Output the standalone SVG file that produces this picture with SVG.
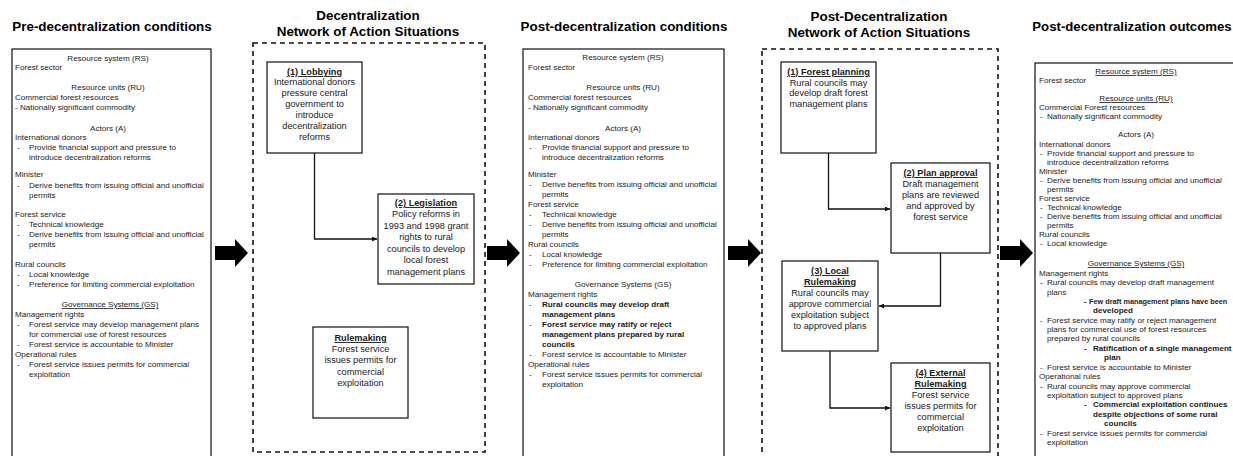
<svg xmlns="http://www.w3.org/2000/svg" width="1233" height="456" viewBox="0 0 1233 456">
<style>
text{font-family:"Liberation Sans",Arial,sans-serif;fill:#1a1a1a}
.t{font-size:8.1px}
.c{text-anchor:middle}
.b{font-weight:bold}
.u{text-decoration:underline}
.h{font-size:13.4px;font-weight:bold;text-anchor:middle;fill:#000}
.n{font-size:9.2px;text-anchor:middle}
.box{fill:#fff;stroke:#222;stroke-width:1.3}
.dash{fill:none;stroke:#111;stroke-width:1.6;stroke-dasharray:5 4}
.conn{fill:none;stroke:#111;stroke-width:1.3;marker-end:url(#ah)}
.big{fill:#000}
</style>
<defs>
<marker id="ah" viewBox="0 0 6 6" refX="6" refY="3" markerWidth="5" markerHeight="5" markerUnits="userSpaceOnUse" orient="auto"><path d="M0,0 L6,3 L0,6 Z" fill="#111"/></marker>
<path id="bigArrow" d="M0,-7 H20 V-14 L33,0 L20,14 V7 H0 Z"/>
</defs>
<rect width="1233" height="456" fill="#fff"/>

<!-- Panel 1 -->
<g id="pre-conditions">
<text class="h" x="112" y="31">Pre-decentralization conditions</text>
<rect class="box" x="12" y="49" width="199" height="420"/>
<g class="t">
<text class="c" x="108" y="61">Resource system (RS)</text>
<text x="15" y="70">Forest sector</text>
<text class="c" x="108" y="90">Resource units (RU)</text>
<text x="15" y="100">Commercial forest resources</text>
<text x="15" y="110">- Nationally significant commodity</text>
<text class="c" x="108" y="131">Actors (A)</text>
<text x="15" y="140">International donors</text>
<text x="17" y="150">-</text><text x="29" y="150">Provide financial support and pressure to</text>
<text x="29" y="160">introduce decentralization reforms</text>
<text x="15" y="177">Minister</text>
<text x="17" y="188">-</text><text x="29" y="188">Derive benefits from issuing official and unofficial</text>
<text x="29" y="198">permits</text>
<text x="15" y="217">Forest service</text>
<text x="17" y="227">-</text><text x="29" y="227">Technical knowledge</text>
<text x="17" y="237">-</text><text x="29" y="237">Derive benefits from issuing official and unofficial</text>
<text x="29" y="247">permits</text>
<text x="15" y="267">Rural councils</text>
<text x="17" y="277">-</text><text x="29" y="277">Local knowledge</text>
<text x="17" y="287">-</text><text x="29" y="287">Preference for limiting commercial exploitation</text>
<text class="c u" x="110" y="307">Governance Systems (GS)</text>
<text x="15" y="317">Management rights</text>
<text x="17" y="327">-</text><text x="29" y="327">Forest service may develop management plans</text>
<text x="29" y="337">for commercial use of forest resources</text>
<text x="17" y="347">-</text><text x="29" y="347">Forest service is accountable to Minister</text>
<text x="15" y="357">Operational rules</text>
<text x="17" y="367">-</text><text x="29" y="367">Forest service issues permits for commercial</text>
<text x="29" y="377">exploitation</text>
</g>
</g>

<!-- Panel 2 -->
<g id="decentralization-nas">
<text class="h" x="368" y="20">Decentralization</text>
<text class="h" x="368" y="36">Network of Action Situations</text>
<rect class="dash" x="253" y="43" width="232" height="409"/>
</g>
<g id="lobbying">
<rect class="box" x="267" y="62" width="95" height="91"/>
<text class="n b u" x="314.5" y="75">(1) Lobbying</text>
<text class="n" x="314.5" y="85">International donors</text>
<text class="n" x="314.5" y="96">pressure central</text>
<text class="n" x="314.5" y="107">government to</text>
<text class="n" x="314.5" y="118">introduce</text>
<text class="n" x="314.5" y="129">decentralization</text>
<text class="n" x="314.5" y="140">reforms</text>
</g>
<g id="legislation">
<rect class="box" x="378" y="194" width="96" height="90"/>
<text class="n b u" x="426" y="206">(2) Legislation</text>
<text class="n" x="426" y="217">Policy reforms in</text>
<text class="n" x="426" y="228.5">1993 and 1998 grant</text>
<text class="n" x="426" y="240">rights to rural</text>
<text class="n" x="426" y="251.5">councils to develop</text>
<text class="n" x="426" y="263">local forest</text>
<text class="n" x="426" y="274.5">management plans</text>
</g>
<g id="rulemaking">
<rect class="box" x="313" y="327" width="95" height="91"/>
<text class="n b u" x="360.5" y="341">Rulemaking</text>
<text class="n" x="360.5" y="352">Forest service</text>
<text class="n" x="360.5" y="363">issues permits for</text>
<text class="n" x="360.5" y="374.5">commercial</text>
<text class="n" x="360.5" y="386">exploitation</text>
</g>

<!-- Panel 3 -->
<g id="post-conditions">
<text class="h" x="624" y="31">Post-decentralization conditions</text>
<rect class="box" x="523" y="49" width="201" height="420"/>
<g class="t">
<text class="c" x="623" y="60">Resource system (RS)</text>
<text x="528" y="70">Forest sector</text>
<text class="c" x="623" y="90">Resource units (RU)</text>
<text x="528" y="100">Commercial forest resources</text>
<text x="528" y="110">- Nationally significant commodity</text>
<text class="c" x="623" y="131">Actors (A)</text>
<text x="528" y="140">International donors</text>
<text x="529" y="150">-</text><text x="542" y="150">Provide financial support and pressure to</text>
<text x="542" y="160">introduce decentralization reforms</text>
<text x="528" y="177">Minister</text>
<text x="529" y="187">-</text><text x="542" y="187">Derive benefits from issuing official and unofficial</text>
<text x="542" y="197">permits</text>
<text x="528" y="207">Forest service</text>
<text x="529" y="217">-</text><text x="542" y="217">Technical knowledge</text>
<text x="529" y="227">-</text><text x="542" y="227">Derive benefits from issuing official and unofficial</text>
<text x="542" y="237">permits</text>
<text x="528" y="247">Rural councils</text>
<text x="529" y="257">-</text><text x="542" y="257">Local knowledge</text>
<text x="529" y="267">-</text><text x="542" y="267">Preference for limiting commercial exploitation</text>
<text class="c" x="623" y="287">Governance Systems (GS)</text>
<text x="528" y="297">Management rights</text>
<text x="529" y="307">-</text><text class="b" x="542" y="307">Rural councils may develop draft</text>
<text class="b" x="542" y="317">management plans</text>
<text x="529" y="327">-</text><text class="b" x="542" y="327">Forest service may ratify or reject</text>
<text class="b" x="542" y="337">management plans prepared by rural</text>
<text class="b" x="542" y="347">councils</text>
<text x="529" y="357">-</text><text x="542" y="357">Forest service is accountable to Minister</text>
<text x="528" y="367">Operational rules</text>
<text x="529" y="377">-</text><text x="542" y="377">Forest service issues permits for commercial</text>
<text x="542" y="387">exploitation</text>
</g>
</g>

<!-- Panel 4 -->
<g id="post-nas">
<text class="h" x="879" y="21">Post-Decentralization</text>
<text class="h" x="879" y="37">Network of Action Situations</text>
<rect class="dash" x="762" y="49" width="236" height="420"/>
</g>
<g id="forest-planning">
<rect class="box" x="781" y="62" width="95" height="91"/>
<text class="n b u" x="828.5" y="75">(1) Forest planning</text>
<text class="n" x="828.5" y="85.5">Rural councils may</text>
<text class="n" x="828.5" y="96">develop draft forest</text>
<text class="n" x="828.5" y="106.5">management plans</text>
</g>
<g id="plan-approval">
<rect class="box" x="891" y="163" width="99" height="90"/>
<text class="n b u" x="940.5" y="176">(2) Plan approval</text>
<text class="n" x="940.5" y="187">Draft management</text>
<text class="n" x="940.5" y="198">plans are reviewed</text>
<text class="n" x="940.5" y="209">and approved by</text>
<text class="n" x="940.5" y="220">forest service</text>
</g>
<g id="local-rulemaking">
<rect class="box" x="782" y="261" width="96" height="90"/>
<text class="n b u" x="830" y="274">(3) Local</text>
<text class="n b u" x="830" y="285">Rulemaking</text>
<text class="n" x="830" y="296">Rural councils may</text>
<text class="n" x="830" y="307">approve commercial</text>
<text class="n" x="830" y="318">exploitation subject</text>
<text class="n" x="830" y="329">to approved plans</text>
</g>
<g id="external-rulemaking">
<rect class="box" x="891" y="363" width="99" height="89"/>
<text class="n b u" x="940.5" y="376">(4) External</text>
<text class="n b u" x="940.5" y="387">Rulemaking</text>
<text class="n" x="940.5" y="398">Forest service</text>
<text class="n" x="940.5" y="409">issues permits for</text>
<text class="n" x="940.5" y="420">commercial</text>
<text class="n" x="940.5" y="431">exploitation</text>
</g>

<!-- Panel 5 -->
<g id="post-outcomes">
<text class="h" x="1132" y="31" style="font-size:13.2px">Post-decentralization outcomes</text>
<rect class="box" x="1035" y="63" width="210" height="420"/>
<g class="t">
<text class="c u" x="1136" y="74">Resource system (RS)</text>
<text x="1039" y="83">Forest sector</text>
<text class="c u" x="1136" y="101">Resource units (RU)</text>
<text x="1039" y="110">Commercial Forest resources</text>
<text x="1040" y="119">-</text><text x="1047" y="119">Nationally significant commodity</text>
<text class="c" x="1136" y="137">Actors (A)</text>
<text x="1039" y="146.5">International donors</text>
<text x="1040" y="155.5">-</text><text x="1047" y="155.5">Provide financial support and pressure to</text>
<text x="1047" y="164.5">introduce decentralization reforms</text>
<text x="1039" y="173.5">Minister</text>
<text x="1040" y="182.5">-</text><text x="1047" y="182.5">Derive benefits from issuing official and unofficial</text>
<text x="1047" y="191.5">permits</text>
<text x="1039" y="201">Forest service</text>
<text x="1040" y="210">-</text><text x="1047" y="210">Technical knowledge</text>
<text x="1040" y="219">-</text><text x="1047" y="219">Derive benefits from issuing official and unofficial</text>
<text x="1047" y="228">permits</text>
<text x="1039" y="237">Rural councils</text>
<text x="1040" y="246">-</text><text x="1047" y="246">Local knowledge</text>
<text class="c u" x="1136" y="266">Governance Systems (GS)</text>
<text x="1039" y="275.5">Management rights</text>
<text x="1040" y="285">-</text><text x="1047" y="285">Rural councils may develop draft management</text>
<text x="1047" y="294.5">plans</text>
<text class="b" x="1084" y="304">-</text><text class="b" x="1089" y="304" style="font-size:7.3px">Few draft management plans have been</text>
<text class="b" x="1093" y="313">developed</text>
<text x="1040" y="322.5">-</text><text x="1047" y="322.5">Forest service may ratify or reject management</text>
<text x="1047" y="332">plans for commercial use of forest resources</text>
<text x="1047" y="341">prepared by rural councils</text>
<text class="b" x="1084" y="350.5">-</text><text class="b" x="1093" y="350.5">Ratification of a single management</text>
<text class="b" x="1104" y="360">plan</text>
<text x="1040" y="369.5">-</text><text x="1047" y="369.5">Forest service is accountable to Minister</text>
<text x="1039" y="379">Operational rules</text>
<text x="1040" y="388.5">-</text><text x="1047" y="388.5">Rural councils may approve commercial</text>
<text x="1047" y="398">exploitation subject to approved plans</text>
<text class="b" x="1084" y="407">-</text><text class="b" x="1093" y="407">Commercial exploitation continues</text>
<text class="b" x="1093" y="416.5">despite objections of some rural</text>
<text class="b" x="1104" y="426">councils</text>
<text x="1040" y="435.5">-</text><text x="1047" y="435.5">Forest service issues permits for commercial</text>
<text x="1047" y="445">exploitation</text>
</g>
</g>

<!-- Connectors -->
<g id="connectors">
<path class="conn" d="M314.5,153 V239 H377"/>
<path class="conn" d="M828.5,153 V209 H890"/>
<path class="conn" d="M940.5,253 V306 H879"/>
<path class="conn" d="M830,351 V408 H890"/>
<use href="#bigArrow" class="big" x="215" y="253"/>
<use href="#bigArrow" class="big" x="487" y="253"/>
<use href="#bigArrow" class="big" x="728" y="253"/>
<use href="#bigArrow" class="big" x="1000" y="253"/>
</g>
</svg>
